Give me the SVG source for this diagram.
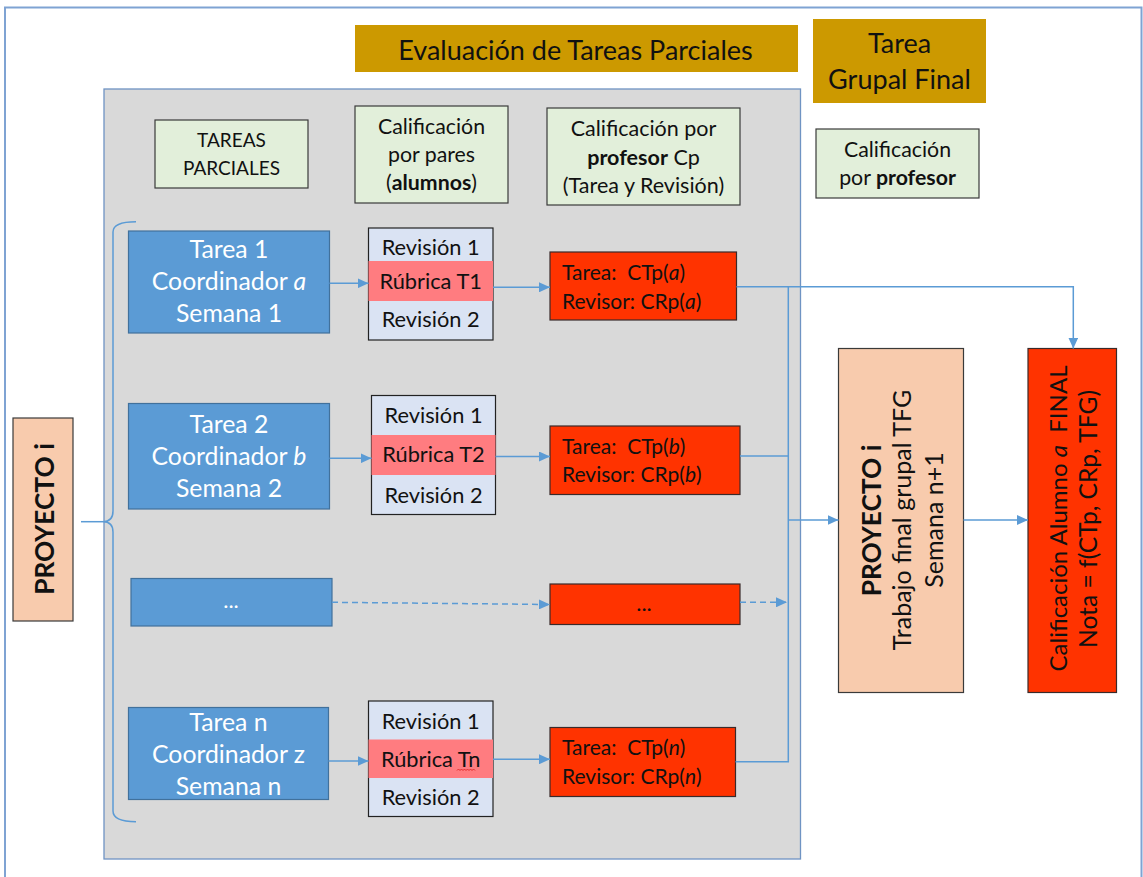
<svg xmlns="http://www.w3.org/2000/svg" width="1143" height="877" viewBox="0 0 1143 877">
<defs>
<marker id="arr" markerUnits="userSpaceOnUse" markerWidth="12" markerHeight="10" refX="11" refY="5" orient="auto"><path d="M0,0 L11,5 L0,10 Z" fill="#5B9BD5"/></marker>
<style>
text{font-family:Lato,"Open Sans","Liberation Sans",sans-serif;fill:#111111;white-space:pre}
.w{fill:#ffffff}
.mid{text-anchor:middle}
.b{font-weight:bold}
.i{font-style:italic}
.gold{fill:#CC9900}
.green{fill:#E2EFDA;stroke:#3a3a3a;stroke-width:1.2}
.blue{fill:#5B9BD5;stroke:#41719C;stroke-width:1.2}
.rev{fill:#DAE3F3;stroke:#222;stroke-width:1.2}
.pink{fill:#FF7C80}
.red{fill:#FF3300;stroke:#3a2a2a;stroke-width:1.2}
.peach{fill:#F8CBAD;stroke:#3a3a3a;stroke-width:1.2}
.ln{fill:none;stroke:#5B9BD5;stroke-width:1.5}
.dash{stroke-dasharray:6,4}
</style>
</defs>
<rect x="0" y="0" width="1143" height="877" fill="#ffffff"/>
<rect x="5" y="7.5" width="1136.5" height="880" fill="none" stroke="#7FA3D3" stroke-width="2"/>
<rect id="panel" x="104" y="89" width="696.5" height="770" fill="#D9D9D9" stroke="#6F93C3" stroke-width="1.3"/>

<g id="title">
<rect class="gold" x="355" y="25" width="443" height="47"/>
<text class="mid" x="575.5" y="59.5" font-size="27">Evaluación de Tareas Parciales</text>
</g>
<g id="tareaGrupal">
<rect class="gold" x="813" y="19" width="173" height="84"/>
<text class="mid" x="899.5" y="53" font-size="27">Tarea</text>
<text class="mid" x="899.5" y="88.5" font-size="27">Grupal Final</text>
</g>

<g id="hdrTareas">
<rect class="green" x="155" y="120" width="153" height="68"/>
<text class="mid" x="231.5" y="146.5" font-size="19">TAREAS</text>
<text class="mid" x="231.5" y="175" font-size="19">PARCIALES</text>
</g>
<g id="hdrPares">
<rect class="green" x="355" y="106" width="153" height="97"/>
<text class="mid" x="431.5" y="133.5" font-size="21.3">Calificación</text>
<text class="mid" x="431.5" y="161.5" font-size="21.3">por pares</text>
<text class="mid" x="431.5" y="189.5" font-size="21.3">(<tspan class="b">alumnos</tspan>)</text>
</g>
<g id="hdrProfesor">
<rect class="green" x="547" y="108" width="193" height="97"/>
<text class="mid" x="643.5" y="136" font-size="21.5">Calificación por</text>
<text class="mid" x="643.5" y="164.5" font-size="21.5"><tspan class="b">profesor</tspan> Cp</text>
<text class="mid" x="643.5" y="192.5" font-size="21.5">(Tarea y Revisión)</text>
</g>
<g id="hdrFinalProf">
<rect class="green" x="816" y="129" width="163" height="69"/>
<text class="mid" x="897.5" y="157" font-size="21.3">Calificación</text>
<text class="mid" x="897.5" y="185" font-size="21.3">por <tspan class="b">profesor</tspan></text>
</g>

<g id="proyectoLeft">
<rect class="peach" x="13" y="418" width="60" height="203"/>
<text class="mid b" transform="translate(53.5,519) rotate(-90)" font-size="26.3">PROYECTO i</text>
</g>

<g id="tarea1">
<rect class="blue" x="128.5" y="231" width="201" height="102"/>
<text class="mid w" x="229" y="258" font-size="24.8">Tarea 1</text>
<text class="mid w" x="229" y="290" font-size="24.8">Coordinador <tspan class="i">a</tspan></text>
<text class="mid w" x="229" y="322" font-size="24.8">Semana 1</text>
</g>
<g id="rev1">
<rect class="rev" x="368.5" y="228" width="124.5" height="112"/>
<rect class="pink" x="368.5" y="261" width="124.5" height="40"/>
<text class="mid" x="430.7" y="255" font-size="21.8">Revisión 1</text>
<text class="mid" x="430.7" y="289" font-size="21.8">Rúbrica T1</text>
<text class="mid" x="430.7" y="327" font-size="21.8">Revisión 2</text>
</g>
<g id="cal1">
<rect class="red" x="550" y="252" width="186.5" height="68"/>
<text x="562" y="280" font-size="21">Tarea:  CTp(<tspan class="i">a</tspan>)</text>
<text x="562" y="308.5" font-size="21">Revisor: CRp(<tspan class="i">a</tspan>)</text>
</g>

<g id="tarea2">
<rect class="blue" x="128.5" y="403.5" width="201" height="105.5"/>
<text class="mid w" x="229" y="432.5" font-size="24.8">Tarea 2</text>
<text class="mid w" x="229" y="465" font-size="24.8">Coordinador <tspan class="i">b</tspan></text>
<text class="mid w" x="229" y="497" font-size="24.8">Semana 2</text>
</g>
<g id="rev2">
<rect class="rev" x="371.5" y="395.5" width="124" height="119"/>
<rect class="pink" x="371.5" y="435" width="124" height="40"/>
<text class="mid" x="433.5" y="422.5" font-size="21.8">Revisión 1</text>
<text class="mid" x="433.5" y="461.5" font-size="21.8">Rúbrica T2</text>
<text class="mid" x="433.5" y="502.5" font-size="21.8">Revisión 2</text>
</g>
<g id="cal2">
<rect class="red" x="550" y="426" width="190" height="68.5"/>
<text x="562" y="453.5" font-size="21">Tarea:  CTp(<tspan class="i">b</tspan>)</text>
<text x="562" y="482" font-size="21">Revisor: CRp(<tspan class="i">b</tspan>)</text>
</g>

<g id="tareaDots">
<rect class="blue" x="131" y="578.5" width="201" height="47.5"/>
<text class="mid w" x="231" y="608" font-size="22">...</text>
</g>
<g id="calDots">
<rect class="red" x="550" y="584" width="190" height="40.5"/>
<text class="mid" x="644" y="611" font-size="22">...</text>
</g>

<g id="tareaN">
<rect class="blue" x="128.5" y="707.5" width="200" height="92"/>
<text class="mid w" x="228.5" y="731" font-size="24.8">Tarea n</text>
<text class="mid w" x="228.5" y="762.5" font-size="24.8">Coordinador z</text>
<text class="mid w" x="228.5" y="795" font-size="24.8">Semana n</text>
</g>
<g id="revN">
<rect class="rev" x="368.5" y="701" width="124.5" height="115.5"/>
<rect class="pink" x="368.5" y="739.5" width="124.5" height="38.5"/>
<text class="mid" x="430.7" y="766.5" font-size="21.8">Rúbrica Tn</text>
<text class="mid" x="430.7" y="728.5" font-size="21.8">Revisión 1</text>
<path d="M457,770.5 l1.5,-1.5 l1.5,1.5 l1.5,-1.5 l1.5,1.5 l1.5,-1.5 l1.5,1.5 l1.5,-1.5 l1.5,1.5 l1.5,-1.5 l1.5,1.5 l1.5,-1.5 l1.5,1.5" fill="none" stroke="#E02020" stroke-width="0.9"/>
<text class="mid" x="430.7" y="805" font-size="21.8">Revisión 2</text>
</g>
<g id="calN">
<rect class="red" x="550" y="727.5" width="185.5" height="69"/>
<text x="562" y="755" font-size="21">Tarea:  CTp(<tspan class="i">n</tspan>)</text>
<text x="562" y="783.5" font-size="21">Revisor: CRp(<tspan class="i">n</tspan>)</text>
</g>

<g id="proyectoFinal">
<rect class="peach" x="838.5" y="348.5" width="125" height="344"/>
<text class="mid b" transform="translate(880.5,520.5) rotate(-90)" font-size="26.3">PROYECTO i</text>
<text class="mid" transform="translate(910.5,520) rotate(-90)" font-size="25">Trabajo final grupal TFG</text>
<text class="mid" transform="translate(943,520) rotate(-90)" font-size="25">Semana n+1</text>
</g>
<g id="calFinal">
<rect class="red" x="1028" y="348.5" width="88.5" height="344"/>
<text class="mid" transform="translate(1066.5,518.5) rotate(-90)" font-size="24">Calificación Alumno <tspan class="i">a</tspan>  FINAL</text>
<text class="mid" transform="translate(1097,519) rotate(-90)" font-size="24.6">Nota = f(CTp, CRp, TFG)</text>
</g>

<g id="connectors">
<path class="ln" stroke-width="2" d="M136,221.7 Q113,221.7 113,232 L113,511 Q113,521.7 103,521.7 Q113,521.7 113,532 L113,811 Q113,821.7 136,821.7"/>
<path class="ln" stroke-width="2" d="M81,521.7 L103,521.7"/>
<path class="ln" marker-end="url(#arr)" d="M329.5,283.3 L368.5,283.3"/>
<path class="ln" marker-end="url(#arr)" d="M493,287.3 L550,287.3"/>
<path class="ln" marker-end="url(#arr)" d="M329.5,458.3 L371.5,458.3"/>
<path class="ln" marker-end="url(#arr)" d="M495.5,456.5 L550,456.5"/>
<path class="ln dash" marker-end="url(#arr)" d="M332,602.3 L550,604.5"/>
<path class="ln dash" marker-end="url(#arr)" d="M740,602.3 L787,602.3"/>
<path class="ln" marker-end="url(#arr)" d="M328.5,761 L368.5,761"/>
<path class="ln" marker-end="url(#arr)" d="M493,759.3 L550,759.3"/>
<path class="ln" marker-end="url(#arr)" d="M736.5,286.7 L1073.3,286.7 L1073.3,348.5"/>
<path class="ln" d="M788.3,286.7 L788.3,761.7 L735.5,761.7"/>
<path class="ln" d="M740,456 L788.3,456"/>
<path class="ln" marker-end="url(#arr)" d="M788.3,520 L838.5,520"/>
<path class="ln" marker-end="url(#arr)" d="M963.5,520 L1028,520"/>
</g>
</svg>
